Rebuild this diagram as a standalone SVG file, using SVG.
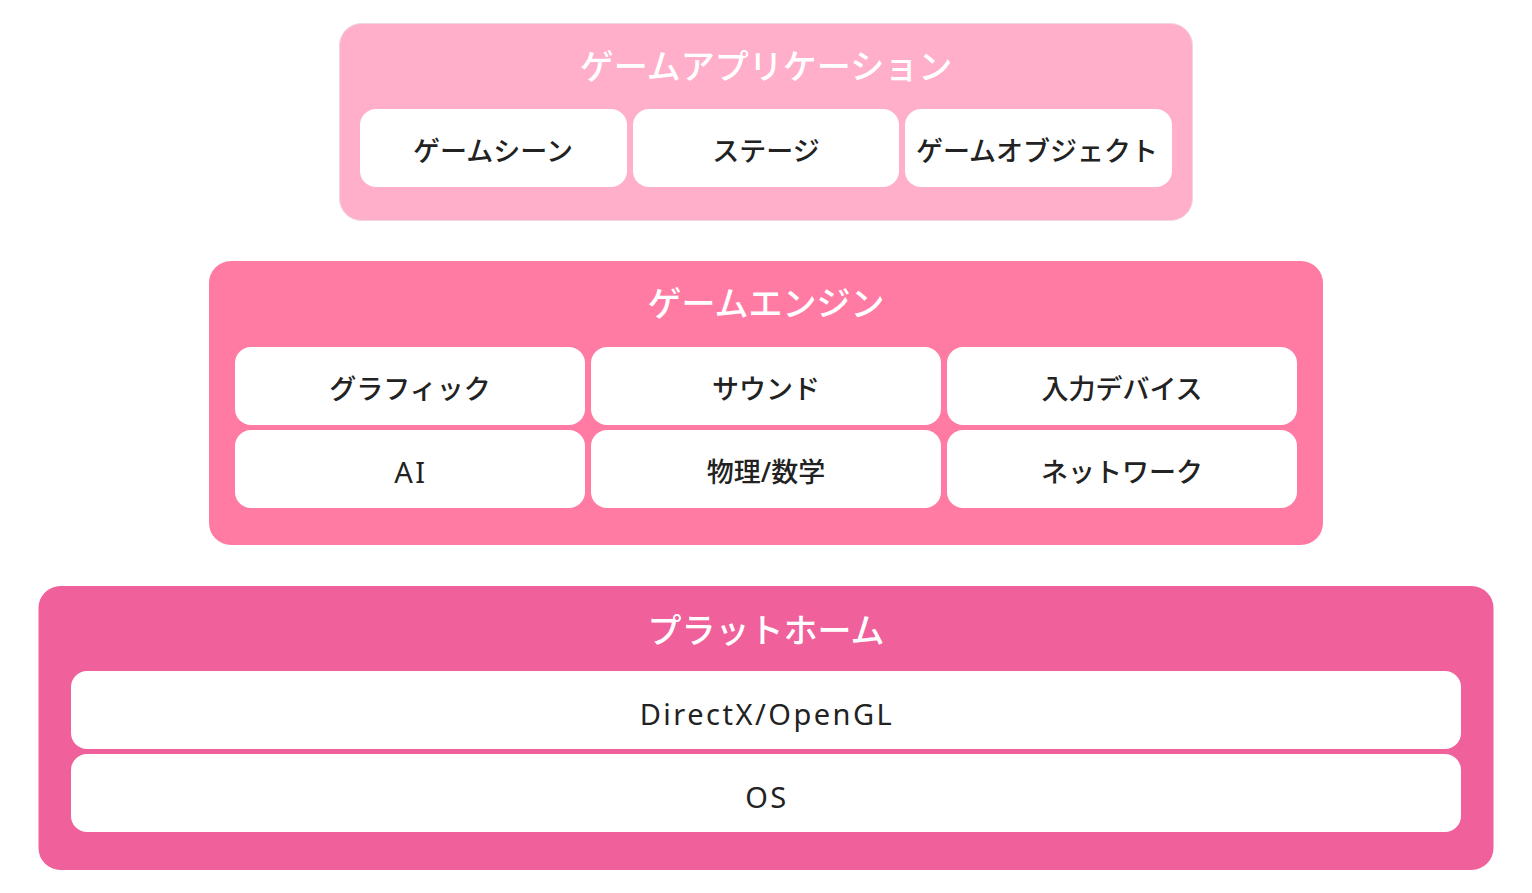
<svg xmlns="http://www.w3.org/2000/svg" width="1532" height="893" viewBox="0 0 1532 893">
<style>
.t{font-family:"Noto Sans","Noto Sans CJK JP",sans-serif;text-anchor:middle;dominant-baseline:central}
.title{font-size:34px;fill:#ffffff;font-weight:500}
.lbl{font-size:27px;fill:#222222;font-weight:500}
.lat{font-size:29px;fill:#222222;font-weight:400;letter-spacing:2.5px}
.box{fill:#ffffff}
</style>
<rect width="1532" height="893" fill="#ffffff"/>
<g id="app">
<rect x="339.5" y="23.5" width="853" height="197" rx="22" fill="#FFAFC9" stroke="#f2d6df" stroke-width="1"/>
<text class="t title" x="766" y="66">ゲームアプリケーション</text>
</g>
<g id="scene"><rect class="box" x="360" y="109" width="267" height="78" rx="16"/><text class="t lbl" x="493" y="150">ゲームシーン</text></g>
<g id="stage"><rect class="box" x="633" y="109" width="266" height="78" rx="16"/><text class="t lbl" x="766" y="150">ステージ</text></g>
<g id="object"><rect class="box" x="905" y="109" width="267" height="78" rx="16"/><text class="t lbl" x="1037" y="150">ゲームオブジェクト</text></g>

<g id="engine">
<rect x="209" y="261" width="1114" height="284" rx="22" fill="#FF7BA3"/>
<text class="t title" x="766" y="303">ゲームエンジン</text>
</g>
<g id="graphics"><rect class="box" x="235" y="347" width="350" height="78" rx="16"/><text class="t lbl" x="410" y="388">グラフィック</text></g>
<g id="sound"><rect class="box" x="591" y="347" width="350" height="78" rx="16"/><text class="t lbl" x="766" y="388">サウンド</text></g>
<g id="input"><rect class="box" x="947" y="347" width="350" height="78" rx="16"/><text class="t lbl" x="1122" y="388">入力デバイス</text></g>
<g id="ai"><rect class="box" x="235" y="430" width="350" height="78" rx="16"/><text class="t lat" x="411" y="471">AI</text></g>
<g id="physics"><rect class="box" x="591" y="430" width="350" height="78" rx="16"/><text class="t lbl" x="766" y="471">物理/数学</text></g>
<g id="network"><rect class="box" x="947" y="430" width="350" height="78" rx="16"/><text class="t lbl" x="1122" y="471">ネットワーク</text></g>

<g id="platform">
<rect x="38.5" y="586" width="1455" height="284" rx="22" fill="#F0609A"/>
<text class="t title" x="766" y="630">プラットホーム</text>
</g>
<g id="directx"><rect class="box" x="71" y="671" width="1390" height="78" rx="16"/><text class="t lat" x="767" y="713">DirectX/OpenGL</text></g>
<g id="os"><rect class="box" x="71" y="754" width="1390" height="78" rx="16"/><text class="t lat" x="767" y="796">OS</text></g>
<g id="connectors"></g>
</svg>
